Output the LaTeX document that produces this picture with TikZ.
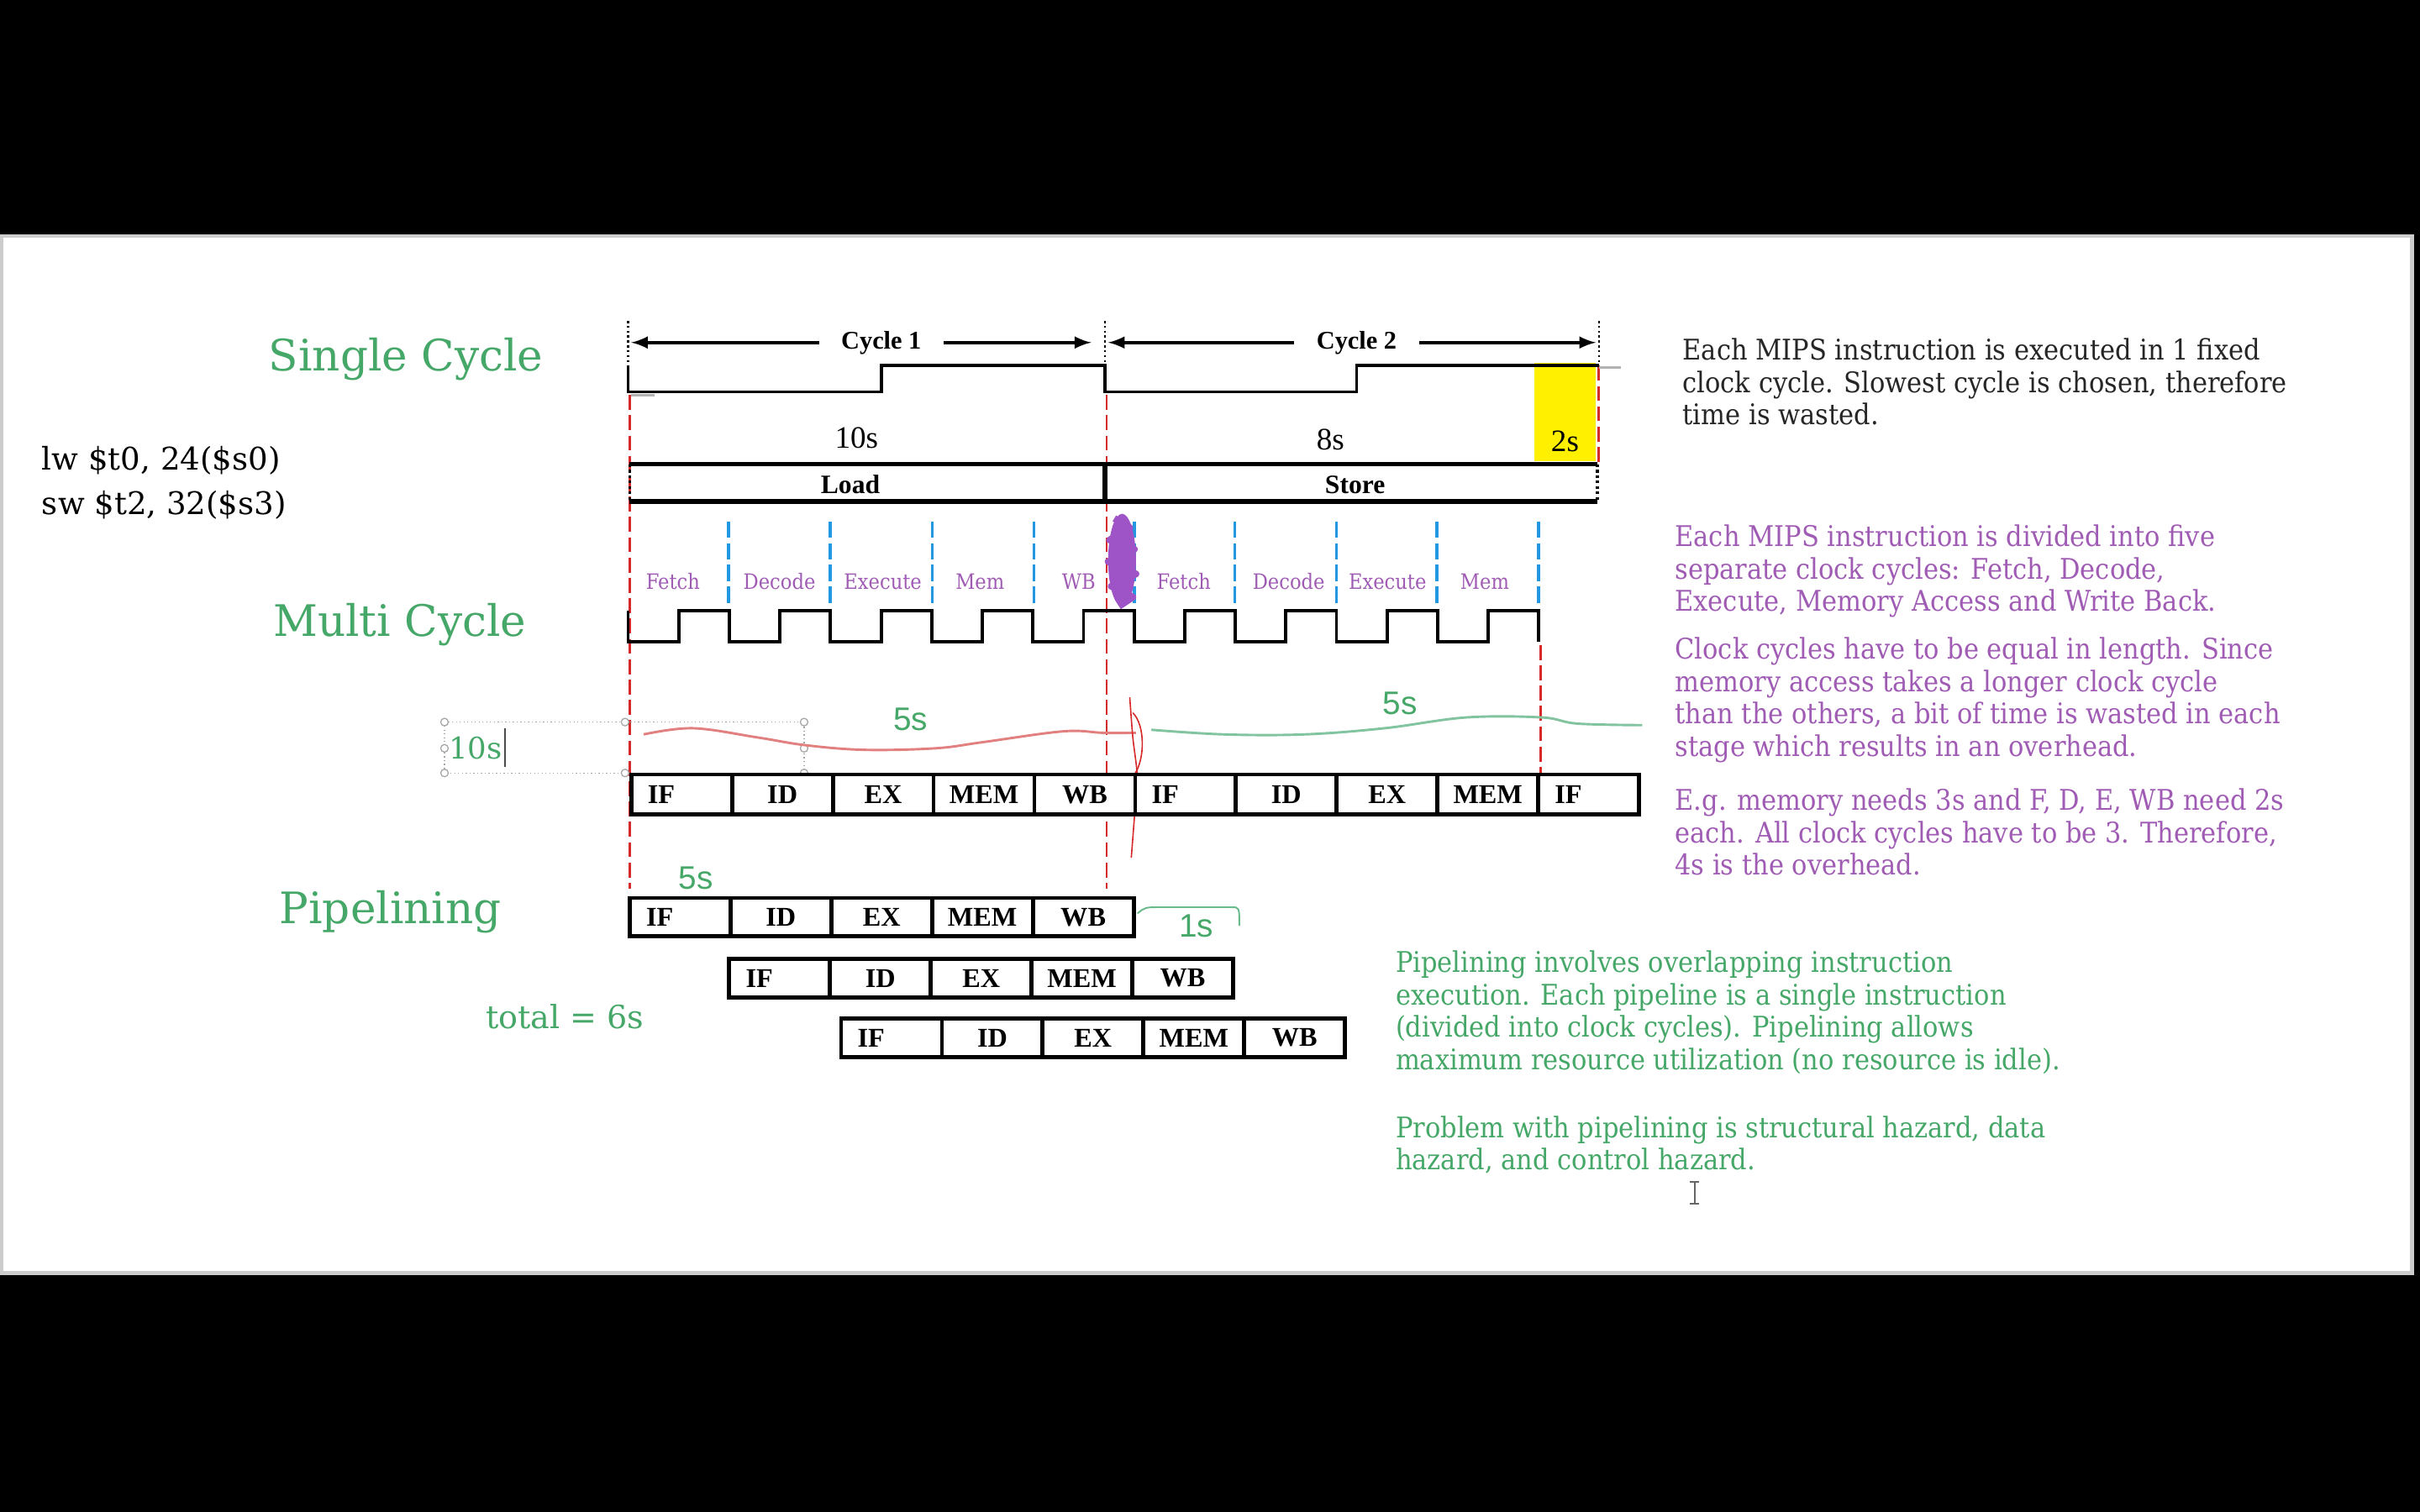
\documentclass[tikz,border=0pt]{standalone}
\usepackage{fontspec}
\setmainfont{Liberation Serif}
\newfontfamily\slabwide{DejaVu Serif}
\IfFontExistsTF{DejaVu Serif Condensed}
  {\newfontfamily\slab{DejaVu Serif Condensed}}
  {\newfontfamily\slab[FakeStretch=0.88]{DejaVu Serif}}
\newfontfamily\handsans{Liberation Sans}
\usetikzlibrary{shapes, arrows, positioning, calc}

\definecolor{ttlgreen}{RGB}{70,168,104}
\definecolor{notepurple}{RGB}{160,92,180}
\definecolor{cutblue}{RGB}{35,152,226}
\definecolor{cutred}{RGB}{214,42,42}
\definecolor{hlyellow}{RGB}{255,240,0}
\definecolor{inkred}{RGB}{226,128,128}
\definecolor{inkgreen}{RGB}{130,196,160}
\definecolor{blobpurple}{RGB}{158,84,198}

\newcommand{\stIF}{IF\hspace*{15pt}}

\begin{document}
\begin{tikzpicture}[x=0.02cm, y=-0.02cm, >=latex]
    \tikzstyle{ttl} = [text=ttlgreen, font=\slabwide\fontsize{16}{19}\selectfont]
    \tikzstyle{stage} = [draw, line width=1.5pt, fill=white, rectangle, minimum width=1.306cm, inner sep=0pt, font=\fontsize{10}{12}\selectfont\bfseries]
    \tikzstyle{phase} = [text=notepurple, font=\slab\fontsize{7.8}{9}\selectfont]
    \tikzstyle{note} = [anchor=north west, align=left, inner sep=0pt, font=\slab\fontsize{10.5}{11.9}\selectfont]
    \tikzstyle{secs} = [font=\fontsize{11.5}{13}\selectfont]
    \tikzstyle{hand} = [text=ttlgreen, font=\handsans\fontsize{12}{14}\selectfont]
    \tikzstyle{redcut} = [cutred, line width=0.9pt, dash pattern=on 5.5pt off 2pt]
    \tikzstyle{bluecut} = [cutblue, line width=1.1pt, dash pattern=on 6pt off 2pt]
    \tikzstyle{clk} = [line width=1.2pt]

    \useasboundingbox (0,0) rectangle (1568,980);
    \fill[black] (0,0) rectangle (1568,980);
    \filldraw[fill=white, draw=gray!40, line width=1.5pt] (1,153) rectangle (1563,825);

    \node[ttl] (single) at (263,233) {Single Cycle};
    \node[ttl] (multi) at (259,405) {Multi Cycle};
    \node[ttl] (pipe) at (253,591) {Pipelining};
    \node[anchor=west, align=left, font=\slabwide\fontsize{11.5}{16.4}\selectfont] (code) at (21,313) {lw \$t0, 24(\$s0)\\sw \$t2, 32(\$s3)};

    \fill[hlyellow] (994,235) rectangle (1034,299);
    \draw[redcut] (408,256) -- (408,576);
    \draw[redcut] (717,256) -- (717,576);
    \draw[redcut] (1036,237) -- (1036,300);
    \draw[redcut] (998,418) -- (998,502);

    \foreach \x in {407,716,1036} \draw[densely dotted, thick] (\x,208) -- (\x,236);
    \node[font=\fontsize{9.4}{11}\selectfont\bfseries, inner xsep=8pt] (cyc1) at (571,222) {Cycle 1};
    \node[font=\fontsize{9.4}{11}\selectfont\bfseries, inner xsep=8pt] (cyc2) at (879,222) {Cycle 2};
    \coordinate (c1l) at (409,222);
    \coordinate (c1r) at (707,222);
    \coordinate (c2l) at (718,222);
    \coordinate (c2r) at (1034,222);
    \draw[<-, line width=1.1pt] (c1l) -- (cyc1);
    \draw[->, line width=1.1pt] (cyc1) -- (c1r);
    \draw[<-, line width=1.1pt] (c2l) -- (cyc2);
    \draw[->, line width=1.1pt] (cyc2) -- (c2r);

    \draw[clk] (407,237) -- (407,254) -- (571,254) -- (571,237) -- (716,237) -- (716,254) -- (879,254) -- (879,237) -- (1036,237);
    \draw[gray!60, line width=1pt] (1036,238) -- (1050,238);
    \draw[gray!60, line width=1pt] (409,256) -- (424,256);

    \node[secs] (t10) at (555,284) {10s};
    \node[secs] (t8) at (862,285) {8s};
    \node[secs] (t2) at (1014,286) {2s};

    \node[font=\fontsize{9.8}{12}\selectfont\bfseries] (load) at (551,314) {Load};
    \node[font=\fontsize{9.8}{12}\selectfont\bfseries] (store) at (878,314) {Store};
    \draw[line width=1.6pt] (408,301) -- (1035,301);
    \draw[line width=1.6pt] (408,325) -- (1035,325);
    \draw[line width=2pt] (716,300) -- (716,326);
    \draw[densely dotted, line width=1pt] (408,301) -- (408,325) (1035,301) -- (1035,325);

    \foreach \x in {472,538,604,670,735,800,866,931,997} \draw[bluecut] (\x,338) -- (\x,393);
    \foreach \lbl/\x in {Fetch/436, Decode/505, Execute/572, Mem/635, WB/699, Fetch/767, Decode/835, Execute/899, Mem/962}
        \node[phase] (ph\x) at (\x,377) {\lbl};
    \fill[blobpurple] (727,363) ellipse (9 and 30);
    \draw[blobpurple, line width=2.5pt, line join=round] (722,336) -- (732,342) -- (719,350) -- (735,356) -- (718,364) -- (736,372) -- (720,380) -- (734,387) -- (725,393);

    \draw[clk] (407,396) \foreach \i in {1,...,9} { -- ++(0,20) -- ++(32.78,0) -- ++(0,-20) -- ++(32.78,0) } -- ++(0,20);

    \draw[gray!70, densely dotted] (288,468) rectangle (521,501);
    \foreach \p in {(288,468),(288,485),(288,501),(405,468),(405,501),(521,468),(521,485),(521,501)}
        \draw[gray!70, fill=white] \p circle (1.4pt);
    \node[text=ttlgreen, font=\slabwide\fontsize{11}{13}\selectfont] (ten) at (308,485) {10s};
    \draw[black!70, line width=0.6pt] (327,472) -- (327,497);

    \draw[inkred, line width=0.9pt] plot[smooth, tension=0.6] coordinates {(417,476) (449,472) (491,478) (522,483) (560,486) (606,485) (637,481) (689,474) (715,475) (736,475)};
    \draw[inkgreen, line width=0.9pt] plot[smooth, tension=0.6] coordinates {(746,473) (793,476) (845,476) (897,472) (950,465) (999,465) (1022,469) (1064,470)};
    \draw[cutred, line width=0.5pt] plot[smooth] coordinates {(732,452) (734,478) (737,505) (735,530) (733,556)};
    \draw[cutred, line width=0.5pt] (734,462) .. controls (742,470) and (742,492) .. (735,502);

    \node[hand] (m5a) at (590,466) {5s};
    \node[hand] (m5b) at (907,456) {5s};

    \foreach \lbl [count=\i] in {\stIF,ID,EX,MEM,WB,\stIF,ID,EX,MEM,\stIF}
        \node[stage, minimum height=0.52cm] (mc\i) at ({409+65.3*(\i-0.5)},515) {\lbl};

    \foreach \r/\x/\y in {1/408/594.5, 2/472.5/634, 3/545/672.7}
        \foreach \lbl [count=\i] in {\stIF,ID,EX,MEM,WB}
            \node[stage, minimum height=0.5cm] (p\r\i) at ({\x+65.3*(\i-0.5)},\y) {\lbl};

    \node[hand] (p5) at (451,569) {5s};
    \node[hand] (p1) at (775,600) {1s};
    \draw[inkgreen!60!ttlgreen, line width=0.6pt] (737,592) .. controls (742,588) .. (752,588) -- (798,588) .. controls (803,588) .. (803,600);
    \node[text=ttlgreen, font=\slabwide\fontsize{11.8}{14}\selectfont] (total) at (366,659) {total = 6s};

    \node[note, text=black!85] (scnote) at (1090,219) {Each MIPS instruction is executed in 1 fixed\\clock cycle. Slowest cycle is chosen, therefore\\time is wasted.};
    \node[note, text=notepurple] (mcnote1) at (1085,340) {Each MIPS instruction is divided into five\\separate clock cycles: Fetch, Decode,\\Execute, Memory Access and Write Back.};
    \node[note, text=notepurple] (mcnote2) at (1085,413) {Clock cycles have to be equal in length. Since\\memory access takes a longer clock cycle\\than the others, a bit of time is wasted in each\\stage which results in an overhead.};
    \node[note, text=notepurple] (mcnote3) at (1085,511) {E.g. memory needs 3s and F, D, E, WB need 2s\\each. All clock cycles have to be 3. Therefore,\\4s is the overhead.};
    \node[note, text=ttlgreen] (plnote1) at (904,616) {Pipelining involves overlapping instruction\\execution. Each pipeline is a single instruction\\(divided into clock cycles). Pipelining allows\\maximum resource utilization (no resource is idle).};
    \node[note, text=ttlgreen] (plnote2) at (904,723) {Problem with pipelining is structural hazard, data\\hazard, and control hazard.};

    \draw[gray!80!black, line width=0.6pt] (1095,766) -- (1101,766) (1098,766) -- (1098,780) (1095,780) -- (1101,780);
\end{tikzpicture}
\end{document}
